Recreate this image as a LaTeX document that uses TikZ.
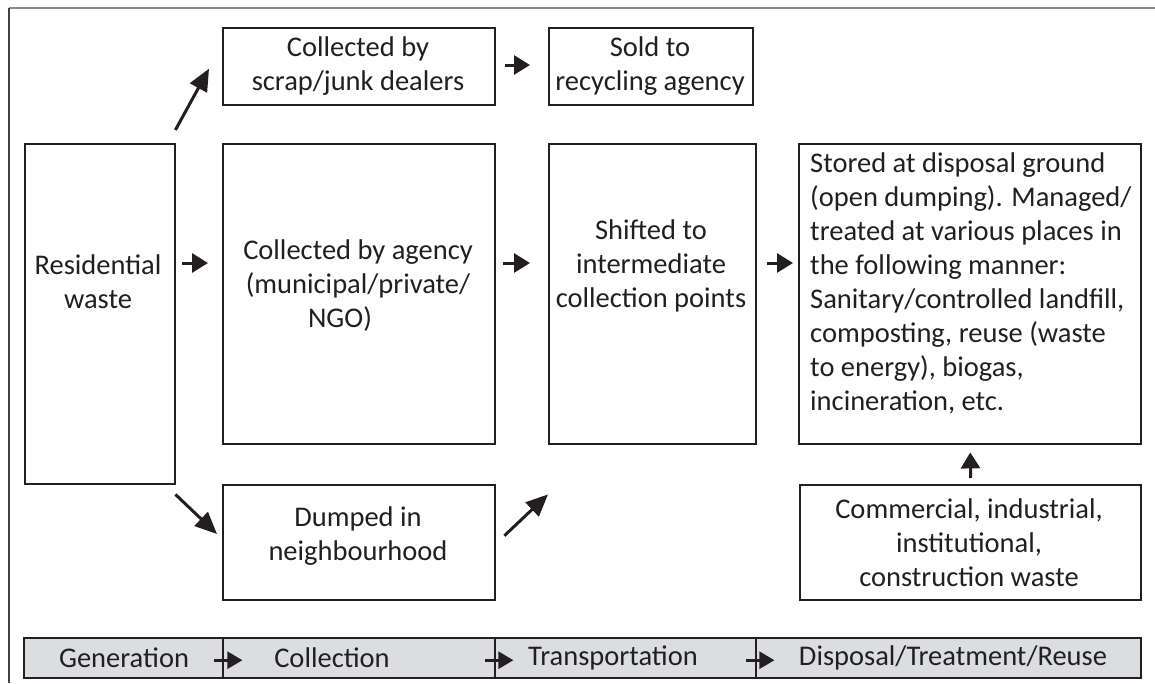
\documentclass[tikz,border=0pt]{standalone}
\usepackage{fontspec}
\setmainfont{Carlito}
\usetikzlibrary{arrows.meta}
\definecolor{ink}{HTML}{231F20}
\definecolor{barfill}{HTML}{DCDDE0}
\definecolor{framegray}{HTML}{8C8C8C}
\tikzset{
  box/.style={draw=ink, line width=2.4pt, inner sep=0pt, anchor=north west},
  seg/.style={box, fill=barfill, minimum height=40pt},
  txt/.style={align=center, inner sep=0pt, text=ink,
    font=\fontsize{28.5}{34}\selectfont},
  arr/.style={draw=ink, line width=3pt,
    -{Triangle[length=16pt, width=19pt]}},
  bigarr/.style={draw=ink, line width=3pt,
    -{Triangle[length=22pt, width=19pt]}},
  bararr/.style={draw=ink, line width=2.6pt,
    -{Triangle[length=15pt, width=17pt]}},
}
\begin{document}
\begin{tikzpicture}[x=1pt, y=-1pt]
\useasboundingbox (0,0) rectangle (1155,683);
\fill[white] (0,0) rectangle (1155,683);

% outer frame: top rule and left rule
\draw[framegray, line width=2.5pt] (9,8) -- (1155,8);
\draw[ink!85, line width=1.5pt] (9,8) -- (9,683);

% boxes
\node[box, minimum width=272pt, minimum height=77pt] (scrap) at (222,27) {};
\node[box, minimum width=204pt, minimum height=77pt] (sold) at (548,27) {};
\node[box, minimum width=150pt, minimum height=340pt] (res) at (24,143) {};
\node[box, minimum width=272pt, minimum height=300pt] (agency) at (222,143) {};
\node[box, minimum width=207pt, minimum height=300pt] (shifted) at (548,143) {};
\node[box, minimum width=342pt, minimum height=300pt] (stored) at (798,143) {};
\node[box, minimum width=272pt, minimum height=115pt] (dumped) at (222,484) {};
\node[box, minimum width=341pt, minimum height=115pt] (comm) at (799,484) {};

% box texts
\node[txt] (tscrap) at (358,66) {Collected by\\scrap/junk dealers};
\node[txt] (tsold) at (650,66) {Sold to\\recycling agency};
\node[txt] (tres) at (98,282) {Residential\\waste};
\node[txt] (tagency) at (358,286) {Collected by agency\\(municipal/private/\\NGO)\hspace*{36pt}};
\node[txt] (tshifted) at (651,266) {Shifted to\\intermediate\\collection points};
\node[txt, align=left, anchor=west] (tstored) at (810,283) {Stored at disposal ground\\(open dumping). Managed/\\treated at various places in\\the following manner:\\Sanitary/controlled landfill,\\composting, reuse (waste\\to energy), biogas,\\incineration, etc.};
\node[txt] (tdumped) at (358,536) {Dumped in\\neighbourhood};
\node[txt] (tcomm) at (969,543) {Commercial, industrial,\\institutional,\\construction waste};

% connectors
\coordinate (row) at (0,263);
\coordinate (toprow) at (0,65);
\draw[bigarr] ([xshift=-1pt, yshift=13pt]res.north east) -- ([xshift=-13pt, yshift=-2pt]scrap.west);
\draw[arr] ([xshift=9pt]scrap.east |- toprow) -- ([xshift=-18pt]sold.west |- toprow);
\draw[arr] ([xshift=6pt]res.east |- row) -- ([xshift=-14pt]agency.west |- row);
\draw[arr] ([xshift=7pt]agency.east |- row) -- ([xshift=-18pt]shifted.west |- row);
\draw[arr] ([xshift=10pt]shifted.east |- row) -- ([xshift=-5pt]stored.west |- row);
\draw[bigarr] ([xshift=-1pt, yshift=-9pt]res.south east) -- ([xshift=-5pt, yshift=-50pt]dumped.north west);
\draw[bigarr] ([xshift=8pt, yshift=7pt]dumped.east) -- ([yshift=-49pt]shifted.south west);
\draw[arr] ([yshift=6pt]comm.north) -- ([yshift=-7pt]stored.south);

% stage bar
\node[seg, minimum width=199pt] (gen) at (23,637) {};
\node[seg, minimum width=272pt] (col) at (222,637) {};
\node[seg, minimum width=261pt] (tra) at (494,637) {};
\node[seg, minimum width=385pt] (dis) at (755,637) {};
\node[txt] (tgen) at (124,658) {Generation};
\node[txt] (tcol) at (332,658) {Collection};
\node[txt] (ttra) at (613,658) {Transportation};
\node[txt] (tdis) at (953,658) {Disposal/Treatment/Reuse};
\draw[bararr] ([xshift=-10pt, yshift=-2pt]gen.east) -- ([xshift=18pt, yshift=-2pt]gen.east);
\draw[bararr] ([xshift=-11pt, yshift=-2pt]col.east) -- ([xshift=17pt, yshift=-2pt]col.east);
\draw[bararr] ([xshift=-11pt, yshift=-2pt]tra.east) -- ([xshift=17pt, yshift=-2pt]tra.east);
\end{tikzpicture}
\end{document}
